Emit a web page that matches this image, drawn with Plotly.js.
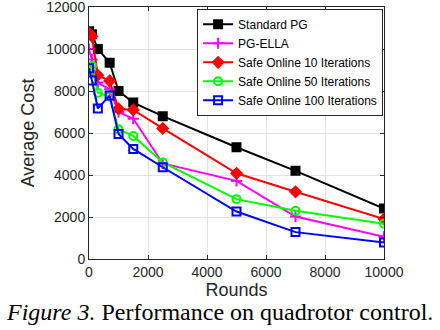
<!DOCTYPE html>
<html>
<head>
<meta charset="utf-8">
<script src="https://cdn.plot.ly/plotly-3.0.1.min.js"></script>
<style>
  html, body { margin: 0; padding: 0; background: #fff; }
  #chart { width: 440px; height: 330px; }
</style>
</head>
<body>
<div id="chart"></div>
<script>
var rounds = [0, 100, 300, 700, 1000, 1500, 2500, 5000, 7000, 10000];

var standardPG = [10850, 10700, 10000, 9350, 8000, 7450, 6800, 5320, 4200, 2400];
var pgElla     = [10000, 9500, 8400, 8080, 7000, 6680, 4550, 3720, 2020, 1060];
var safe10     = [10750, 10600, 8750, 8480, 7150, 7100, 6220, 4080, 3200, 1900];
var safe50     = [9000, 9200, 7920, 7730, 6180, 5860, 4600, 2850, 2300, 1680];
var safe100    = [9080, 8500, 7170, 7780, 5950, 5240, 4370, 2260, 1280, 790];

var seriesNames = ['Standard PG', 'PG-ELLA', 'Safe Online 10 Iterations',
                   'Safe Online 50 Iterations', 'Safe Online 100 Iterations'];
var seriesColors = ['#000000', '#ff00ff', '#ff0000', '#00ff00', '#0000ff'];
var seriesSymbols = ['square', 'cross-thin-open', 'diamond', 'circle-open', 'square-open'];
var seriesValues = [standardPG, pgElla, safe10, safe50, safe100];

var data = [];
for (var i = 0; i < seriesNames.length; i++) {
    data.push({
        x: rounds, y: seriesValues[i], name: seriesNames[i],
        mode: 'lines+markers', type: 'scatter',
        line: {color: seriesColors[i], width: 2},
        marker: {color: seriesColors[i], symbol: seriesSymbols[i], size: 8,
                 line: {color: seriesColors[i], width: 2}}
    });
}

var sans = 'Liberation Sans, Arial, sans-serif';
var axisFont = {family: sans, size: 14, color: '#262626'};
var titleFont = {family: sans, size: 18, color: '#262626'};

var layout = {
    width: 440, height: 330,
    margin: {l: 89, r: 56, t: 7, b: 71},
    paper_bgcolor: '#fff', plot_bgcolor: '#fff',
    showlegend: true,
    xaxis: {
        range: [0, 10000], tickvals: [0, 2000, 4000, 6000, 8000, 10000], tickformat: 'd',
        ticks: 'inside', ticklen: 4, tickcolor: '#262626', ticklabeloverflow: 'allow',
        showline: true, linecolor: '#262626', linewidth: 1, mirror: 'ticks',
        gridcolor: '#e3e3e3', zeroline: false, tickfont: axisFont,
        title: {text: 'Rounds', font: titleFont, standoff: 2}
    },
    yaxis: {
        range: [0, 12000], tickvals: [0, 2000, 4000, 6000, 8000, 10000, 12000], tickformat: 'd',
        ticks: 'inside', ticklen: 4, tickcolor: '#262626', ticklabeloverflow: 'allow',
        showline: true, linecolor: '#262626', linewidth: 1, mirror: 'ticks',
        gridcolor: '#e3e3e3', zeroline: false, tickfont: axisFont,
        title: {text: 'Average Cost', font: titleFont, standoff: 6}
    },
    legend: {
        x: 0.997, y: 0.993, xanchor: 'right', yanchor: 'top',
        bgcolor: '#fff', bordercolor: '#262626', borderwidth: 1,
        font: {family: sans, size: 12, color: '#000'},
        itemwidth: 30, tracegroupgap: 0
    },
    annotations: [{
        xref: 'paper', yref: 'paper', x: 0.444, y: -0.21, xanchor: 'center', yanchor: 'middle',
        showarrow: false,
        text: '<i>Figure 3.</i> Performance on quadrotor control.',
        font: {family: 'Liberation Serif, Times New Roman, serif', size: 24, color: '#000'}
    }]
};

Plotly.newPlot('chart', data, layout, {displayModeBar: false, staticPlot: true});
</script>
</body>
</html>
